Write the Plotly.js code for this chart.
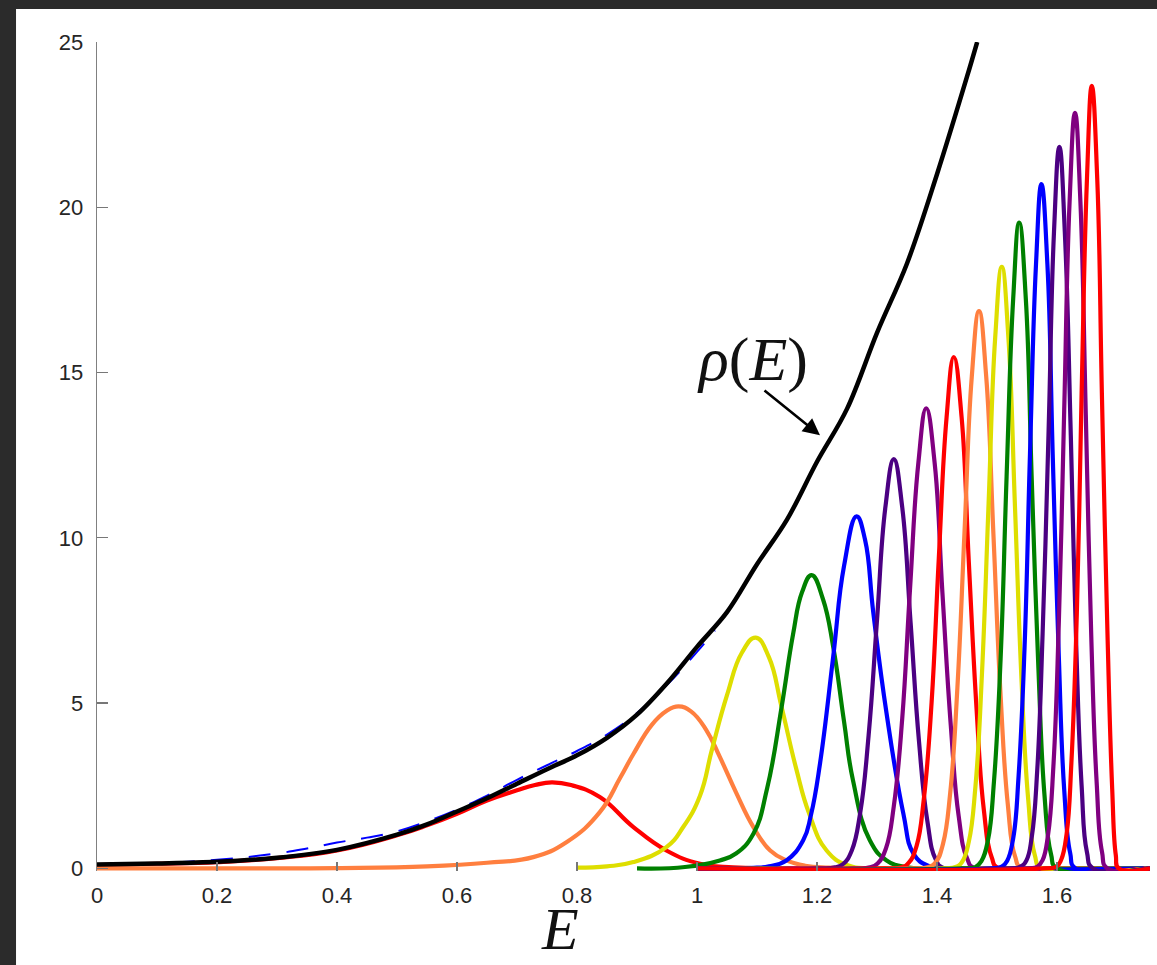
<!DOCTYPE html>
<html>
<head>
<meta charset="utf-8">
<script src="https://cdn.plot.ly/plotly-3.0.1.min.js"></script>
<style>
html,body{margin:0;padding:0;background:#2b2b2b;}
#chart{width:1157px;height:965px;}
</style>
</head>
<body>
<div id="chart"></div>
<script>
// ---- data ----
var xTickVals = [0, 0.2, 0.4, 0.6, 0.8, 1, 1.2, 1.4, 1.6];
var xTickText = ["0", "0.2", "0.4", "0.6", "0.8", "1", "1.2", "1.4", "1.6"];
var yTickVals = [0, 5, 10, 15, 20, 25];
var yTickText = ["0", "5", "10", "15", "20", "25"];

// rho(E): density of states (black)
var rhoE = [0,0.1,0.2,0.3,0.4,0.5,0.55,0.6,0.65,0.7,0.75,0.8,0.85,0.9,0.95,1.0,1.05,1.1,1.15,1.2,1.25,1.3,1.35,1.4,1.45,1.467];
var rhoV = [0.12,0.15,0.2,0.32,0.56,1.02,1.33,1.72,2.12,2.56,3.0,3.42,3.95,4.65,5.6,6.7,7.75,9.2,10.55,12.3,13.9,16.2,18.3,21.0,23.95,25.0];

// fit (blue dashed)
var fitE = [0,0.1,0.2,0.3,0.35,0.4,0.45,0.5,0.55,0.6,0.65,0.7,0.75,0.8,0.85,0.9,0.95,1.0,1.03];
var fitV = [0.1,0.16,0.26,0.45,0.6,0.78,0.93,1.12,1.42,1.78,2.2,2.68,3.12,3.55,4.05,4.7,5.55,6.55,7.2];

// individual bumps
var E1 = [0,0.1,0.2,0.3,0.4,0.5,0.55,0.6,0.65,0.7,0.73,0.758,0.79,0.838,0.894,0.949,1.005,1.06,1.12,1.2,1.755];
var V1 = [0.1,0.14,0.19,0.31,0.54,1.0,1.3,1.65,2.05,2.36,2.52,2.6,2.52,2.16,1.25,0.54,0.14,0.03,0,0,0];
var E2 = [0,0.3,0.4,0.55,0.65,0.727,0.783,0.838,0.872,0.894,0.925,0.949,0.969,0.99,1.015,1.038,1.065,1.094,1.122,1.149,1.18,1.22,1.3,1.755];
var V2 = [0,0,0.01,0.06,0.17,0.34,0.80,1.70,2.74,3.46,4.35,4.76,4.9,4.75,4.2,3.37,2.3,1.25,0.54,0.24,0.08,0.02,0,0];
var E3 = [0.8,0.85,0.894,0.949,0.977,1.005,1.025,1.05,1.075,1.098,1.12,1.141,1.165,1.187,1.216,1.25,1.3,1.755];
var V3 = [0.02,0.06,0.19,0.64,1.25,2.2,3.6,5.24,6.53,6.98,6.38,4.88,3.04,1.65,0.54,0.1,0,0];
var E4 = [0.9,0.98,1.038,1.065,1.094,1.117,1.141,1.16,1.175,1.191,1.21,1.227,1.245,1.26,1.288,1.316,1.35,1.4,1.755];
var V4 = [0,0.04,0.24,0.45,1.05,2.43,4.88,7.07,8.35,8.87,8.14,6.70,4.45,2.66,0.85,0.24,0.03,0,0];
var E5 = [1.0,1.1,1.12,1.149,1.177,1.19,1.205,1.227,1.245,1.266,1.28,1.294,1.316,1.344,1.361,1.385,1.42,1.755];
var V5 = [0,0.02,0.06,0.24,0.85,1.62,3.17,6.40,9.14,10.65,9.95,7.71,4.68,1.65,0.44,0.08,0,0];
var E6 = [1.0,1.2,1.23,1.244,1.258,1.272,1.286,1.3,1.314,1.328,1.342,1.356,1.37,1.384,1.398,1.412,1.755];
var V6 = [0,0,0.03,0.14,0.54,1.68,4.02,7.51,10.93,12.38,10.93,7.43,3.84,1.42,0.27,0,0];
var E7 = [1.0,1.26,1.288,1.301,1.315,1.328,1.342,1.355,1.369,1.382,1.396,1.409,1.423,1.436,1.45,1.463,1.755];
var V7 = [0,0,0.03,0.15,0.61,1.88,4.52,8.44,12.28,13.92,12.28,8.35,4.32,1.60,0.31,0,0];
var E8 = [1.0,1.31,1.341,1.353,1.366,1.378,1.391,1.403,1.416,1.428,1.441,1.453,1.466,1.478,1.491,1.503,1.755];
var V8 = [0,0,0.03,0.17,0.68,2.09,5.02,9.38,13.65,15.47,13.65,9.28,4.80,1.78,0.34,0,0];
var E9 = [1.0,1.36,1.386,1.398,1.41,1.422,1.434,1.446,1.458,1.47,1.482,1.494,1.506,1.518,1.53,1.542,1.755];
var V9 = [0,0,0.04,0.19,0.74,2.28,5.47,10.23,14.88,16.86,14.88,10.12,5.23,1.94,0.37,0,0];
var E10 = [1.0,1.41,1.431,1.442,1.453,1.464,1.475,1.486,1.497,1.508,1.519,1.53,1.541,1.552,1.563,1.574,1.755];
var V10 = [0,0,0.04,0.20,0.80,2.46,5.91,11.04,16.06,18.2,16.06,10.92,5.64,2.09,0.40,0,0];
var E11 = [1.0,1.44,1.464,1.474,1.485,1.495,1.506,1.516,1.527,1.537,1.548,1.558,1.569,1.579,1.59,1.6,1.755];
var V11 = [0,0,0.04,0.22,0.86,2.64,6.34,11.85,17.24,19.54,17.24,11.72,6.06,2.25,0.43,0,0];
var E12 = [1.0,1.49,1.508,1.517,1.527,1.536,1.546,1.555,1.565,1.574,1.584,1.593,1.603,1.612,1.622,1.631,1.755];
var V12 = [0,0,0.05,0.23,0.91,2.80,6.72,12.55,18.27,20.70,18.27,12.42,6.42,2.38,0.46,0,0];
var E13 = [1.0,1.52,1.539,1.549,1.558,1.567,1.576,1.586,1.595,1.604,1.613,1.623,1.632,1.641,1.65,1.66,1.755];
var V13 = [0,0,0.05,0.24,0.96,2.95,7.09,13.24,19.26,21.83,19.26,13.10,6.77,2.51,0.48,0,0];
var E14 = [1.0,1.55,1.567,1.576,1.585,1.594,1.603,1.612,1.621,1.63,1.639,1.648,1.657,1.666,1.675,1.684,1.755];
var V14 = [0,0,0.05,0.25,1.00,3.09,7.42,13.86,20.17,22.86,20.17,13.72,7.09,2.63,0.50,0,0];
var E15 = [1.0,1.58,1.599,1.607,1.616,1.624,1.633,1.641,1.65,1.658,1.667,1.675,1.684,1.692,1.698,1.703,1.755];
var V15 = [0,0,0.05,0.26,1.04,3.20,7.69,14.36,20.89,23.67,20.89,14.20,7.2,2.4,0.4,0,0];

var bumpColors = ["#ff0000","#ff7f3f","#dede00","#008000","#0000ff","#4b0082","#800080",
                  "#ff0000","#ff7f3f","#dede00","#008000","#0000ff","#4b0082","#800080","#ff0000"];

var bumpE = [E1,E2,E3,E4,E5,E6,E7,E8,E9,E10,E11,E12,E13,E14,E15];
var bumpV = [V1,V2,V3,V4,V5,V6,V7,V8,V9,V10,V11,V12,V13,V14,V15];

var traces = [];
for (var i = 0; i < bumpE.length; i++) {
  traces.push({
    x: bumpE[i], y: bumpV[i], type: "scatter", mode: "lines",
    line: {color: bumpColors[i], width: 4.2, shape: "spline", smoothing: 1.3},
    hoverinfo: "skip", showlegend: false
  });
}
traces.push({
  x: fitE, y: fitV, type: "scatter", mode: "lines",
  line: {color: "#0000ff", width: 2, dash: "22px,16px", shape: "spline", smoothing: 1.2},
  hoverinfo: "skip", showlegend: false
});
traces.push({
  x: rhoE, y: rhoV, type: "scatter", mode: "lines",
  line: {color: "#000000", width: 4.5, shape: "spline", smoothing: 1.0},
  hoverinfo: "skip", showlegend: false
});

var layout = {
  width: 1157, height: 965,
  margin: {l: 97, r: 7, t: 42, b: 94, pad: 0},
  paper_bgcolor: "#2b2b2b",
  plot_bgcolor: "rgba(0,0,0,0)",
  showlegend: false,
  font: {family: "Liberation Sans, Arial, sans-serif", color: "#262626", size: 22},
  xaxis: {
    range: [0, 1.755], tickvals: xTickVals, ticktext: xTickText,
    ticks: "inside", ticklen: 9, tickwidth: 1.2, tickcolor: "#777777",
    showline: false, showgrid: false, zeroline: false,
    tickfont: {size: 22, color: "#262626"}, ticklabelstandoff: 9
  },
  yaxis: {
    range: [-0.08, 25], tickvals: yTickVals, ticktext: yTickText,
    ticks: "inside", ticklen: 11, tickwidth: 1.2, tickcolor: "#777777",
    showline: true, linecolor: "#808080", linewidth: 1.3,
    showgrid: false, zeroline: false,
    tickfont: {size: 22, color: "#262626"}, ticklabelstandoff: 8
  },
  shapes: [{
    type: "rect", xref: "paper", yref: "paper",
    x0: -0.0769, x1: 1.01, y0: -0.12, y1: 1.0398,
    fillcolor: "#ffffff", line: {width: 0}, layer: "below"
  }],
  annotations: [
    {
      x: 1.0917, y: 15.4, xref: "x", yref: "y", showarrow: false,
      text: "<i>ρ</i>(<i>E</i>)",
      font: {family: "Liberation Serif, DejaVu Serif, serif", size: 62, color: "#111111"},
      xanchor: "center", yanchor: "middle"
    },
    {
      x: 1.205, y: 13.1, xref: "x", yref: "y", showarrow: true,
      text: "", ax: -57, ay: -46, arrowhead: 2, arrowsize: 1.3, arrowwidth: 2.6,
      arrowcolor: "#000000"
    },
    {
      x: 0.44, y: -0.1125, xref: "paper", yref: "paper", showarrow: false,
      text: "<i>E</i>",
      font: {family: "Liberation Serif, DejaVu Serif, serif", size: 60, color: "#111111"},
      xanchor: "center", yanchor: "bottom"
    }
  ]
};

Plotly.newPlot("chart", traces, layout, {displayModeBar: false, staticPlot: true});
</script>
</body>
</html>
